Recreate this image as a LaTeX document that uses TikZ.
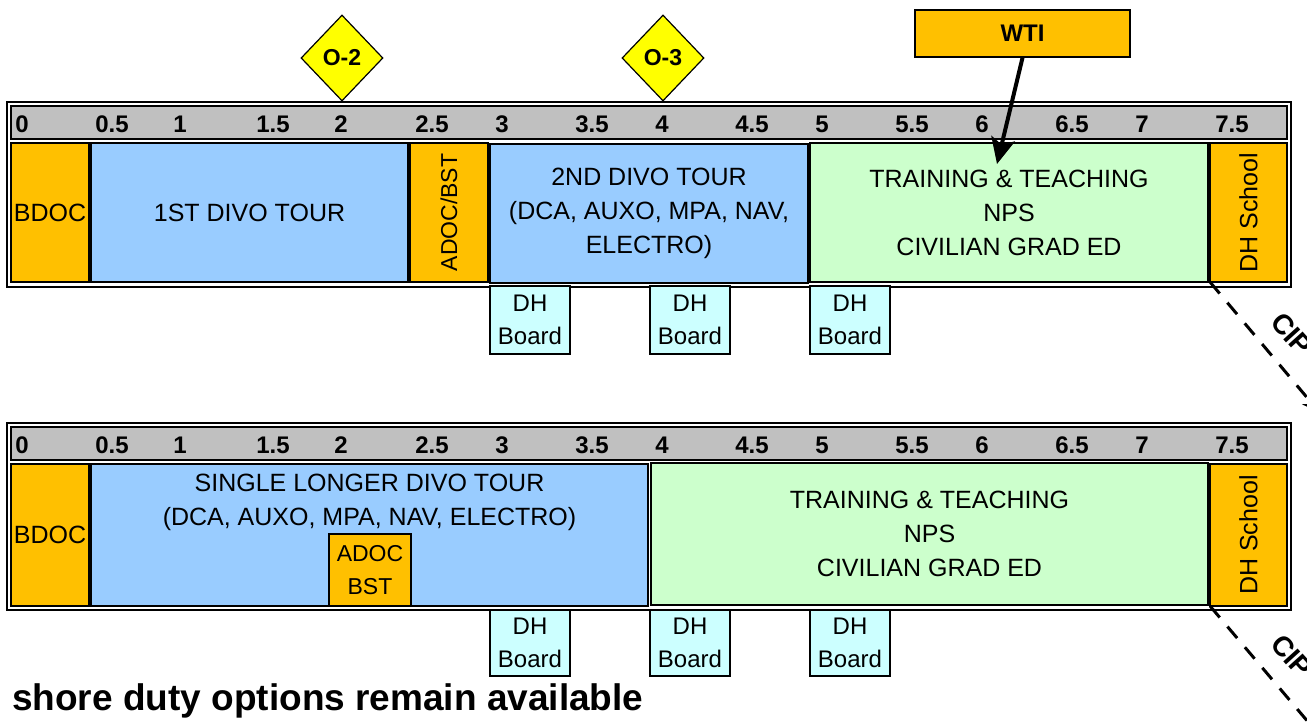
\documentclass[tikz,border=0pt]{standalone}
\usepackage{fontspec}
\setmainfont{Liberation Sans}
\usetikzlibrary{shapes.geometric,arrows.meta}
\definecolor{cOrange}{HTML}{FFC000}
\definecolor{cBlue}{HTML}{99CCFF}
\definecolor{cGreen}{HTML}{CCFFCC}
\definecolor{cGray}{HTML}{C0C0C0}
\definecolor{cCyan}{HTML}{CCFFFF}
\definecolor{cYellow}{HTML}{FFFF00}
\begin{document}
\begin{tikzpicture}[x=1pt,y=-1pt,
  frame/.style={draw=black, line width=2pt, fill=white, inner sep=0pt, outer sep=0pt},
  bar/.style={draw=black, line width=1.6pt, fill=cGray, inner sep=0pt, outer sep=0pt},
  cell/.style={draw=black, line width=1.6pt, inner sep=0pt, outer sep=0pt, align=center, font=\fontsize{25}{34}\selectfont},
  orangecell/.style={cell, fill=cOrange},
  bluecell/.style={cell, fill=cBlue},
  greencell/.style={cell, fill=cGreen},
  txt/.style={inner sep=0pt, align=center, font=\fontsize{25}{34}\selectfont},
  hdr/.style={inner sep=0pt, font=\fontsize{24}{28}\selectfont\bfseries},
  board/.style={draw=black, line width=1.6pt, fill=cCyan, inner sep=0pt, outer sep=0pt, minimum width=80pt, align=center, font=\fontsize{24}{33}\selectfont},
  diam/.style={diamond, draw=black, line width=1.2pt, fill=cYellow, inner sep=0pt, minimum width=82pt, minimum height=86pt, font=\fontsize{23}{26}\selectfont\bfseries},
  wtibox/.style={draw=black, line width=1.6pt, fill=cOrange, inner sep=0pt, minimum width=215pt, minimum height=47pt, font=\fontsize{24}{27}\selectfont\bfseries},
  cipline/.style={line width=3pt, dash pattern=on 15pt off 12pt, -{Stealth[length=18pt,width=16pt]}},
  ciptxt/.style={inner sep=0pt, font=\fontsize{28}{30}\selectfont\bfseries}
]
\useasboundingbox (0,0) rectangle (1307,726);
\fill[white] (0,0) rectangle (1307,726);
\clip (0,0) rectangle (1307,726);

% ===== top timeline =====
\node[frame, minimum width=1284pt, minimum height=185pt] (frame1) at (649,194.5) {};
\node[bar, minimum width=1276pt, minimum height=33pt] (bar1) at (649,122.5) {};
\foreach \x/\t [count=\i] in {22/0,112/0.5,180/1,273/1.5,341/2,432/2.5,502/3,592/3.5,662/4,752/4.5,822/5,912/5.5,982/6,1072/6.5,1142/7,1232/7.5}
  \node[hdr] (ha\i) at (\x,124) {\t};

\node[orangecell, minimum width=78pt, minimum height=139pt] (bdoc1) at (50,212.5) {BDOC};
\node[bluecell, minimum width=317pt, minimum height=139pt] (divo1) at (249.5,212.5) {1ST DIVO TOUR};
\node[orangecell, minimum width=78pt, minimum height=139pt, font=\fontsize{23}{28}\selectfont] (adoc1) at (449,212.5) {\rotatebox{90}{ADOC/BST}};
\node[bluecell, minimum width=318pt, minimum height=139pt] (divo2) at (649,213.5) {2ND DIVO TOUR\\(DCA, AUXO, MPA, NAV,\\ELECTRO)};
\node[greencell, minimum width=398pt, minimum height=139pt] (train1) at (1009,212.5) {TRAINING \& TEACHING\\NPS\\CIVILIAN GRAD ED};
\node[orangecell, minimum width=77pt, minimum height=139pt] (dhs1) at (1248.5,212.5) {\rotatebox{90}{DH School}};

\node[board, minimum height=68pt] (b11) at (530,320) {DH\\Board};
\node[board, minimum height=68pt] (b12) at (690,320) {DH\\Board};
\node[board, minimum height=68pt] (b13) at (850,320) {DH\\Board};

\node[diam] (o2) at (342,58) {O-2};
\node[diam] (o3) at (663,58) {O-3};

\node[wtibox] (wti) at (1022.5,33.5) {WTI};
\coordinate (wtitip) at (997,164);
\draw[line width=4pt, -{Stealth[length=26pt,width=24pt,inset=6pt]}] (wti.south) -- (wtitip);

\coordinate (cip1end) at (1320,413);
\draw[cipline] (dhs1.south west) -- (cip1end);
\node[ciptxt, rotate=-48] (cip1) at (1292,334) {CIP};

% ===== bottom timeline =====
\node[frame, minimum width=1284pt, minimum height=187pt] (frame2) at (649,516.5) {};
\node[bar, minimum width=1276pt, minimum height=33pt] (bar2) at (649,443.5) {};
\foreach \x/\t [count=\i] in {22/0,112/0.5,180/1,273/1.5,341/2,432/2.5,502/3,592/3.5,662/4,752/4.5,822/5,912/5.5,982/6,1072/6.5,1142/7,1232/7.5}
  \node[hdr] (hb\i) at (\x,445) {\t};

\node[orangecell, minimum width=78pt, minimum height=142pt] (bdoc2) at (50,535) {BDOC};
\node[bluecell, minimum width=557pt, minimum height=142pt] (divo3) at (369.5,535) {};
\node[txt, anchor=north] (divo3t) at (369.5,474) {SINGLE LONGER DIVO TOUR\\(DCA, AUXO, MPA, NAV, ELECTRO)};
\node[orangecell, minimum width=82pt, minimum height=72pt, font=\fontsize{23}{33}\selectfont] (adoc2) at (370,570) {ADOC\\BST};
\node[greencell, minimum width=557pt, minimum height=142pt] (train2) at (929.5,534) {TRAINING \& TEACHING\\NPS\\CIVILIAN GRAD ED};
\node[orangecell, minimum width=77pt, minimum height=142pt] (dhs2) at (1248.5,535) {\rotatebox{90}{DH School}};

\node[board, minimum height=66pt] (b21) at (530,643) {DH\\Board};
\node[board, minimum height=66pt] (b22) at (690,643) {DH\\Board};
\node[board, minimum height=66pt] (b23) at (850,643) {DH\\Board};

\coordinate (cip2end) at (1320,736);
\draw[cipline] (dhs2.south west) -- (cip2end);
\node[ciptxt, rotate=-48] (cip2) at (1292,656) {CIP};

\node[inner sep=0pt, anchor=base west, font=\fontsize{37}{40}\selectfont\bfseries] (note) at (12,710) {shore duty options remain available};
\end{tikzpicture}
\end{document}
